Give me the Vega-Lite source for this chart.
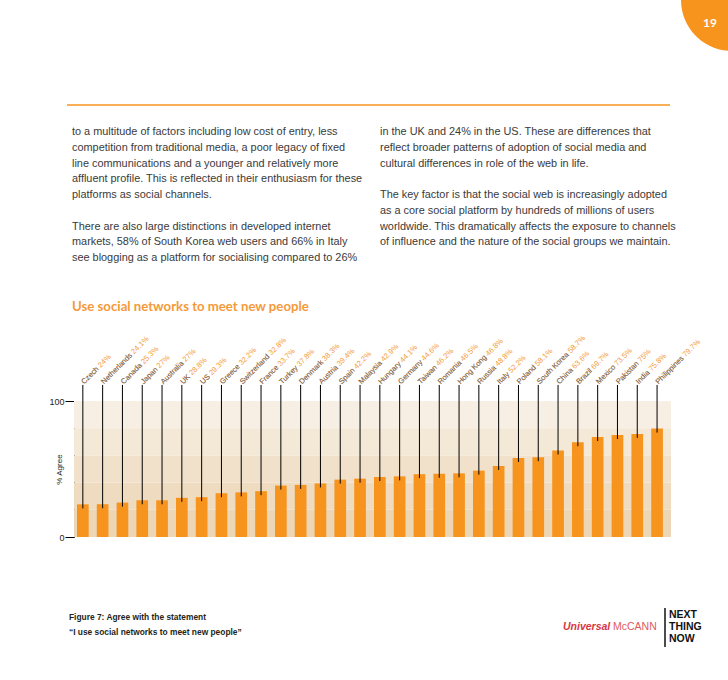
{
  "$schema": "https://vega.github.io/schema/vega-lite/v6.json",
  "background": "white",
  "padding": {"left": 48, "top": 0, "right": 0, "bottom": 0},
  "bounds": "flush",
  "spacing": 60,
  "config": {
    "view": {"stroke": null},
    "font": "Liberation Sans",
    "axisY": {
      "domainColor": "#000000", "tickColor": "#000000", "tickSize": 9, "labelPadding": 1,
      "labelFontSize": 9, "labelColor": "#231f20", "labelFont": "Liberation Sans",
      "titleFont": "Liberation Sans", "titleFontSize": 8, "titleFontWeight": "normal", "titleColor": "#231f20",
      "titleX": -15, "titleY": 68, "titleAngle": 270, "titleAlign": "center", "titleBaseline": "middle", "grid": false
    }
  },
  "datasets": {
    "countries": [
      {"country": "Czech", "label": "Czech 24%", "value": 24},
      {"country": "Netherlands", "label": "Netherlands 24.1%", "value": 24.1},
      {"country": "Canada", "label": "Canada 25.3%", "value": 25.3},
      {"country": "Japan", "label": "Japan 27%", "value": 27},
      {"country": "Australia", "label": "Australia 27%", "value": 27},
      {"country": "UK", "label": "UK 28.8%", "value": 28.8},
      {"country": "US", "label": "US 29.3%", "value": 29.3},
      {"country": "Greece", "label": "Greece 32.2%", "value": 32.2},
      {"country": "Switzerland", "label": "Switzerland 32.8%", "value": 32.8},
      {"country": "France", "label": "France 33.7%", "value": 33.7},
      {"country": "Turkey", "label": "Turkey 37.8%", "value": 37.8},
      {"country": "Denmark", "label": "Denmark 38.3%", "value": 38.3},
      {"country": "Austria", "label": "Austria 39.4%", "value": 39.4},
      {"country": "Spain", "label": "Spain 42.2%", "value": 42.2},
      {"country": "Malaysia", "label": "Malaysia 42.9%", "value": 42.9},
      {"country": "Hungary", "label": "Hungary 44.1%", "value": 44.1},
      {"country": "Germany", "label": "Germany 44.6%", "value": 44.6},
      {"country": "Taiwan", "label": "Taiwan 46.2%", "value": 46.2},
      {"country": "Romania", "label": "Romania 46.5%", "value": 46.5},
      {"country": "Hong Kong", "label": "Hong Kong 46.8%", "value": 46.8},
      {"country": "Russia", "label": "Russia 48.8%", "value": 48.8},
      {"country": "Italy", "label": "Italy 52.2%", "value": 52.2},
      {"country": "Poland", "label": "Poland 58.1%", "value": 58.1},
      {"country": "South Korea", "label": "South Korea 58.7%", "value": 58.7},
      {"country": "China", "label": "China 63.6%", "value": 63.6},
      {"country": "Brazil", "label": "Brazil 69.7%", "value": 69.7},
      {"country": "Mexico", "label": "Mexico 73.5%", "value": 73.5},
      {"country": "Pakistan", "label": "Pakistan 75%", "value": 75},
      {"country": "India", "label": "India 75.8%", "value": 75.8},
      {"country": "Philippines", "label": "Philippines 79.7%", "value": 79.7}
    ],
    "bands": [
      {"lo": 0, "hi": 20, "shade": 1},
      {"lo": 20, "hi": 40, "shade": 2},
      {"lo": 40, "hi": 60, "shade": 3},
      {"lo": 60, "hi": 80, "shade": 4},
      {"lo": 80, "hi": 100, "shade": 5}
    ],
    "paragraphs": [
      {"column": "left", "paragraph": 1, "text": "to a multitude of factors including low cost of entry, less\ncompetition from traditional media, a poor legacy of fixed\nline communications and a younger and relatively more\naffluent profile. This is reflected in their enthusiasm for these\nplatforms as social channels."},
      {"column": "left", "paragraph": 2, "text": "There are also large distinctions in developed internet\nmarkets, 58% of South Korea web users and 66% in Italy\nsee blogging as a platform for socialising compared to 26%"},
      {"column": "right", "paragraph": 1, "text": "in the UK and 24% in the US. These are differences that\nreflect broader patterns of adoption of social media and\ncultural differences in role of the web in life."},
      {"column": "right", "paragraph": 2, "text": "The key factor is that the social web is increasingly adopted\nas a core social platform by hundreds of millions of users\nworldwide. This dramatically affects the exposure to channels\nof influence and the nature of the social groups we maintain."}
    ]
  },
  "vconcat": [
    {
      "width": 597,
      "height": 341,
      "layer": [
        {
          "data": {"values": [{"item": "rule"}]},
          "mark": {"type": "rule", "color": "#f7941d", "strokeWidth": 1.5},
          "encoding": {
            "x": {"datum": 65, "type": "quantitative", "scale": {"domain": [72, 669], "nice": false, "zero": false}, "axis": null},
            "x2": {"datum": 668},
            "y": {"datum": 105, "type": "quantitative", "scale": {"domain": [0, 341], "reverse": true, "nice": false, "zero": false}, "axis": null}
          }
        },
        {
          "data": {"values": [{"page": "19"}]},
          "mark": {"type": "point", "shape": "M0,0L-1,0A1,1,0,0,0,0,1Z", "filled": true, "color": "#f7941d", "opacity": 1, "size": 10400, "strokeWidth": 0},
          "encoding": {
            "x": {"datum": 730, "type": "quantitative", "axis": null},
            "y": {"datum": 0, "type": "quantitative", "axis": null}
          }
        },
        {
          "data": {"values": [{"page": "19"}]},
          "mark": {"type": "text", "color": "#ffffff", "font": "Lato", "fontWeight": "bold", "fontSize": 12, "align": "center", "baseline": "middle"},
          "encoding": {
            "x": {"datum": 708, "type": "quantitative", "axis": null},
            "y": {"datum": 23, "type": "quantitative", "axis": null},
            "text": {"field": "page", "type": "nominal"}
          }
        },
        {
          "data": {"name": "paragraphs"},
          "transform": [{"filter": "datum.column == 'left' && datum.paragraph == 1"}],
          "mark": {"type": "text", "lineBreak": "\n", "lineHeight": 15.75, "baseline": "top", "align": "left", "fontSize": 10.9, "font": "Liberation Sans", "color": "#3a3a3a"},
          "encoding": {
            "x": {"datum": 70, "type": "quantitative", "axis": null},
            "y": {"datum": 126, "type": "quantitative", "axis": null},
            "text": {"field": "text", "type": "nominal"}
          }
        },
        {
          "data": {"name": "paragraphs"},
          "transform": [{"filter": "datum.column == 'left' && datum.paragraph == 2"}],
          "mark": {"type": "text", "lineBreak": "\n", "lineHeight": 15.75, "baseline": "top", "align": "left", "fontSize": 10.9, "font": "Liberation Sans", "color": "#3a3a3a"},
          "encoding": {
            "x": {"datum": 70, "type": "quantitative", "axis": null},
            "y": {"datum": 220.5, "type": "quantitative", "axis": null},
            "text": {"field": "text", "type": "nominal"}
          }
        },
        {
          "data": {"name": "paragraphs"},
          "transform": [{"filter": "datum.column == 'right' && datum.paragraph == 1"}],
          "mark": {"type": "text", "lineBreak": "\n", "lineHeight": 15.75, "baseline": "top", "align": "left", "fontSize": 10.9, "font": "Liberation Sans", "color": "#3a3a3a"},
          "encoding": {
            "x": {"datum": 378, "type": "quantitative", "axis": null},
            "y": {"datum": 126, "type": "quantitative", "axis": null},
            "text": {"field": "text", "type": "nominal"}
          }
        },
        {
          "data": {"name": "paragraphs"},
          "transform": [{"filter": "datum.column == 'right' && datum.paragraph == 2"}],
          "mark": {"type": "text", "lineBreak": "\n", "lineHeight": 15.75, "baseline": "top", "align": "left", "fontSize": 10.9, "font": "Liberation Sans", "color": "#3a3a3a"},
          "encoding": {
            "x": {"datum": 378, "type": "quantitative", "axis": null},
            "y": {"datum": 189, "type": "quantitative", "axis": null},
            "text": {"field": "text", "type": "nominal"}
          }
        },
        {
          "data": {"values": [{"title": "Use social networks to meet new people"}]},
          "mark": {"type": "text", "align": "left", "baseline": "middle", "font": "Lato", "fontWeight": "bold", "fontSize": 13.2, "color": "#f49a3a"},
          "encoding": {
            "x": {"datum": 70, "type": "quantitative", "axis": null},
            "y": {"datum": 307, "type": "quantitative", "axis": null},
            "text": {"field": "title", "type": "nominal"}
          }
        }
      ]
    },
    {
      "width": 597,
      "height": 136,
      "layer": [
        {
          "data": {"name": "bands"},
          "mark": {"type": "rect"},
          "encoding": {
            "x": {"value": 0},
            "x2": {"value": "width"},
            "y": {"field": "lo", "type": "quantitative", "title": "% Agree", "scale": {"domain": [0, 100], "nice": false}, "axis": {"values": [0, 100]}},
            "y2": {"field": "hi"},
            "color": {"field": "shade", "type": "ordinal", "scale": {"range": ["#ecd6b6", "#eedbc0", "#f1e1cb", "#f4e8d7", "#f7efe3"]}, "legend": null}
          }
        },
        {
          "data": {"name": "countries"},
          "mark": {"type": "bar", "color": "#f7941d"},
          "encoding": {
            "x": {"field": "country", "type": "nominal", "sort": null, "scale": {"paddingInner": 0.41, "paddingOuter": 0.28, "align": 0.27}, "axis": null},
            "y": {"field": "value", "type": "quantitative", "title": "% Agree"}
          }
        },
        {
          "data": {"name": "countries"},
          "mark": {"type": "rule", "color": "#000000", "strokeWidth": 1, "yOffset": 4},
          "encoding": {
            "x": {"field": "country", "type": "nominal", "sort": null, "axis": null},
            "y": {"field": "value", "type": "quantitative", "title": "% Agree"},
            "y2": {"datum": 111.8}
          }
        },
        {
          "data": {"name": "countries"},
          "mark": {"type": "text", "angle": -45, "align": "left", "baseline": "middle", "fontSize": 7.5, "font": "Liberation Sans", "color": "#f39c3c"},
          "encoding": {
            "x": {"field": "country", "type": "nominal", "sort": null, "axis": null},
            "y": {"datum": 113.2, "type": "quantitative", "title": "% Agree"},
            "text": {"field": "label", "type": "nominal"}
          }
        },
        {
          "data": {"name": "countries"},
          "mark": {"type": "text", "angle": -45, "align": "left", "baseline": "middle", "fontSize": 7.5, "font": "Liberation Sans", "color": "#6d6e71"},
          "encoding": {
            "x": {"field": "country", "type": "nominal", "sort": null, "axis": null},
            "y": {"datum": 113.2, "type": "quantitative", "title": "% Agree"},
            "text": {"field": "country", "type": "nominal"}
          }
        }
      ]
    },
    {
      "width": 597,
      "height": 55,
      "layer": [
        {
          "data": {"values": [{"caption": "Figure 7: Agree with the statement\n“I use social networks to meet new people”"}]},
          "mark": {"type": "text", "lineBreak": "\n", "lineHeight": 15, "align": "left", "baseline": "middle", "font": "Liberation Sans", "fontWeight": "bold", "fontSize": 8.4, "color": "#231f20"},
          "encoding": {
            "x": {"datum": 67, "type": "quantitative", "scale": {"domain": [72, 669], "nice": false, "zero": false}, "axis": null},
            "y": {"datum": 617, "type": "quantitative", "scale": {"domain": [597, 652], "reverse": true, "nice": false, "zero": false}, "axis": null},
            "text": {"field": "caption", "type": "nominal"}
          }
        },
        {
          "data": {"values": [{"brand": "Universal"}]},
          "mark": {"type": "text", "align": "left", "baseline": "middle", "font": "Liberation Sans", "fontWeight": "bold", "fontStyle": "italic", "fontSize": 10.5, "color": "#d7373f"},
          "encoding": {
            "x": {"datum": 561, "type": "quantitative", "axis": null},
            "y": {"datum": 627, "type": "quantitative", "axis": null},
            "text": {"field": "brand", "type": "nominal"}
          }
        },
        {
          "data": {"values": [{"brand": "McCANN"}]},
          "mark": {"type": "text", "align": "left", "baseline": "middle", "font": "Liberation Sans", "fontSize": 10.5, "color": "#e05a60"},
          "encoding": {
            "x": {"datum": 611, "type": "quantitative", "axis": null},
            "y": {"datum": 627, "type": "quantitative", "axis": null},
            "text": {"field": "brand", "type": "nominal"}
          }
        },
        {
          "data": {"values": [{"brand": "divider"}]},
          "mark": {"type": "rule", "color": "#111111", "strokeWidth": 1.5},
          "encoding": {
            "x": {"datum": 663, "type": "quantitative", "axis": null},
            "y": {"datum": 608, "type": "quantitative", "axis": null},
            "y2": {"datum": 647}
          }
        },
        {
          "data": {"values": [{"brand": "NEXT\nTHING\nNOW"}]},
          "mark": {"type": "text", "lineBreak": "\n", "lineHeight": 11.8, "align": "left", "baseline": "middle", "font": "Liberation Sans", "fontWeight": "bold", "fontSize": 10.5, "color": "#111111"},
          "encoding": {
            "x": {"datum": 667, "type": "quantitative", "axis": null},
            "y": {"datum": 615, "type": "quantitative", "axis": null},
            "text": {"field": "brand", "type": "nominal"}
          }
        }
      ]
    }
  ]
}
